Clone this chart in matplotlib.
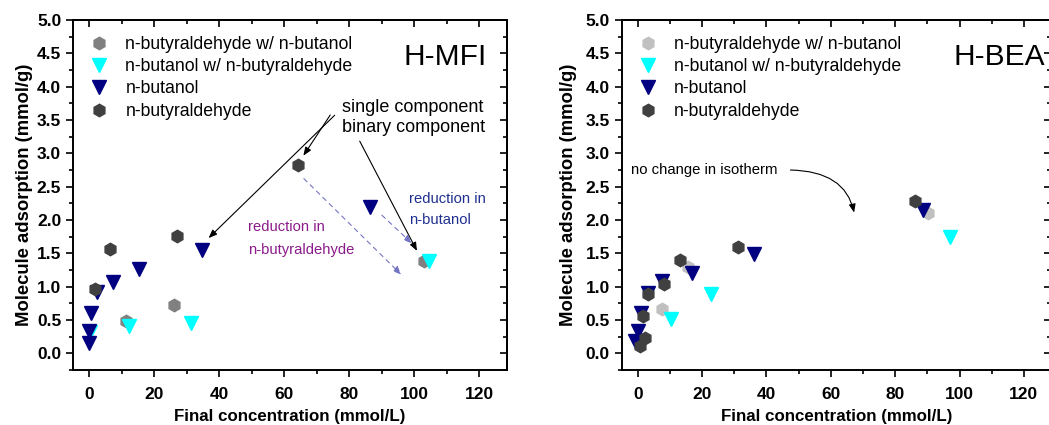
import numpy as np
import matplotlib
matplotlib.use("Agg")
import matplotlib.pyplot as plt
from matplotlib.ticker import MultipleLocator

plt.rcParams['font.family'] = ['Liberation Sans', 'DejaVu Sans']

# H-MFI data (final concentration mmol/L, adsorption mmol/g)
mfi_ald_bin_x = [11.2, 26.2, 103.1]
mfi_ald_bin_y = [0.49, 0.72, 1.38]
mfi_ol_bin_x = [0.2, 12.3, 31.2, 104.5]
mfi_ol_bin_y = [0.32, 0.41, 0.46, 1.38]
mfi_ol_x = [0.0, 0.0, 0.5, 2.3, 7.2, 15.3, 34.7, 86.4]
mfi_ol_y = [0.15, 0.34, 0.61, 0.92, 1.07, 1.26, 1.55, 2.20]
mfi_ald_x = [1.75, 6.4, 26.9, 64.3]
mfi_ald_y = [0.97, 1.56, 1.76, 2.82]

# H-BEA data
bea_ald_bin_x = [7.5, 15.5, 90.1]
bea_ald_bin_y = [0.67, 1.29, 2.10]
bea_ol_bin_x = [10.4, 22.9, 96.9]
bea_ol_bin_y = [0.51, 0.89, 1.74]
bea_ol_x = [-0.8, 0.0, 1.0, 3.2, 7.5, 16.7, 36.1, 88.7]
bea_ol_y = [0.18, 0.33, 0.60, 0.90, 1.08, 1.20, 1.49, 2.15]
bea_ald_x = [0.7, 2.3, 1.55, 3.1, 8.2, 13.0, 31.2, 86.1]
bea_ald_y = [0.11, 0.23, 0.56, 0.89, 1.04, 1.40, 1.59, 2.29]

labels = ["n-butyraldehyde w/ n-butanol", "n-butanol w/ n-butyraldehyde",
          "n-butanol", "n-butyraldehyde"]

fig = plt.figure(figsize=(10.49, 4.25), dpi=100)
ax1 = fig.add_axes([73/1049, 55/425, 434/1049, 350/425])
ax2 = fig.add_axes([621.7/1049, 55/425, 429.5/1049, 350/425])


def style(ax, name, name_x, ylab_x):
    ax.set_xticks(np.arange(0, 121, 20))
    ax.set_yticks(np.arange(0, 5.01, 0.5))
    ax.xaxis.set_minor_locator(MultipleLocator(10))
    ax.yaxis.set_minor_locator(MultipleLocator(0.25))
    ax.set_xlim(-5, 128.5)
    ax.set_ylim(-0.25, 5.0)
    for s in ax.spines.values():
        s.set_linewidth(1.4)
    ax.tick_params(which='both', direction='out', width=1.2, labelsize=12.5)
    ax.tick_params(which='major', length=5)
    ax.tick_params(which='minor', length=3)
    ax.tick_params(axis='x', which='major', pad=7)
    for t in ax.get_xticklabels() + ax.get_yticklabels():
        t.set_fontweight('bold')
    # mirrored ticks on top / right point inwards
    top = ax.secondary_xaxis('top')
    top.set_xticks(np.arange(0, 121, 20))
    top.xaxis.set_minor_locator(MultipleLocator(10))
    top.tick_params(which='both', direction='in', width=1.2, labeltop=False)
    top.tick_params(which='major', length=5)
    top.tick_params(which='minor', length=3)
    top.spines['top'].set_linewidth(1.4)
    rgt = ax.secondary_yaxis('right')
    rgt.set_yticks(np.arange(0, 5.01, 0.5))
    rgt.yaxis.set_minor_locator(MultipleLocator(0.25))
    rgt.tick_params(which='both', direction='in', width=1.2, labelright=False)
    rgt.tick_params(which='major', length=5)
    rgt.tick_params(which='minor', length=3)
    rgt.spines['right'].set_linewidth(1.4)
    ax.set_xlabel("Final concentration (mmol/L)", fontsize=12.2, fontweight='bold',
                  labelpad=5)
    ax.set_ylabel("Molecule adsorption (mmol/g)", fontsize=13.3, fontweight='bold')
    ax.yaxis.set_label_coords(ylab_x, 0.5)
    ax.text(name_x, 4.32, name, fontsize=21.5, ha='right', va='baseline')


def draw(ax, gray, d):
    ax.plot(d[0], d[1], 'h', ms=9, color=gray, mec=gray, label=labels[0])
    ax.plot(d[2], d[3], 'v', ms=9.5, color='#00FFFF', mec='#00FFFF', label=labels[1])
    ax.plot(d[4], d[5], 'v', ms=9.5, color='#000080', mec='#000080', label=labels[2])
    ax.plot(d[6], d[7], 'h', ms=9, color='#404040', mec='#404040', label=labels[3])
    ax.legend(loc='upper left', bbox_to_anchor=(-0.001, 1.0), frameon=False,
              fontsize=12.7, handlelength=1.2, handletextpad=0.9,
              labelspacing=0.3, borderaxespad=0.5)


draw(ax1, '#808080', [mfi_ald_bin_x, mfi_ald_bin_y, mfi_ol_bin_x, mfi_ol_bin_y,
                      mfi_ol_x, mfi_ol_y, mfi_ald_x, mfi_ald_y])
draw(ax2, '#C0C0C0', [bea_ald_bin_x, bea_ald_bin_y, bea_ol_bin_x, bea_ol_bin_y,
                      bea_ol_x, bea_ol_y, bea_ald_x, bea_ald_y])
style(ax1, "H-MFI", 122.4, -0.092)
style(ax2, "H-BEA", 126.7, -0.104)

# annotations H-MFI
ax1.text(77.8, 3.69, "single component", fontsize=13, va='center')
ax1.text(77.8, 3.39, "binary component", fontsize=13, va='center')
blk = dict(arrowstyle='-|>,head_length=0.5,head_width=0.2', color='black', lw=0.8)
ax1.annotate("", xy=(65.4, 2.93), xytext=(74.6, 3.61), arrowprops=blk)
ax1.annotate("", xy=(36.1, 1.70), xytext=(76.1, 3.60), arrowprops=blk)
ax1.annotate("", xy=(101.2, 1.50), xytext=(82.8, 3.22), arrowprops=blk)
dsh = dict(arrowstyle='-|>,head_length=0.5,head_width=0.2', color='#7474C4',
           lw=0.8, linestyle=(0, (4, 4)))
ax1.annotate("", xy=(96.6, 1.15), xytext=(65.4, 2.65), arrowprops=dsh)
ax1.annotate("", xy=(99.9, 1.62), xytext=(89.4, 2.10), arrowprops=dsh)
ax1.text(48.7, 1.90, "reduction in", fontsize=10.6, color='#8B1A8B', va='center')
ax1.text(48.7, 1.55, "n-butyraldehyde", fontsize=10.6, color='#8B1A8B', va='center')
ax1.text(98.4, 2.32, "reduction in", fontsize=10.6, color='#1F2F8F', va='center')
ax1.text(98.4, 2.00, "n-butanol", fontsize=10.6, color='#1F2F8F', va='center')

# annotation H-BEA
ax2.text(-2.1, 2.75, "no change in isotherm", fontsize=10.7, va='center')
ax2.annotate("", xy=(67.4, 2.07), xytext=(46.6, 2.75),
             arrowprops=dict(arrowstyle='-|>,head_length=0.5,head_width=0.2',
                             color='black', lw=0.8,
                             connectionstyle='angle3,angleA=0,angleB=-80'))

fig.savefig("out.png", dpi=100)
